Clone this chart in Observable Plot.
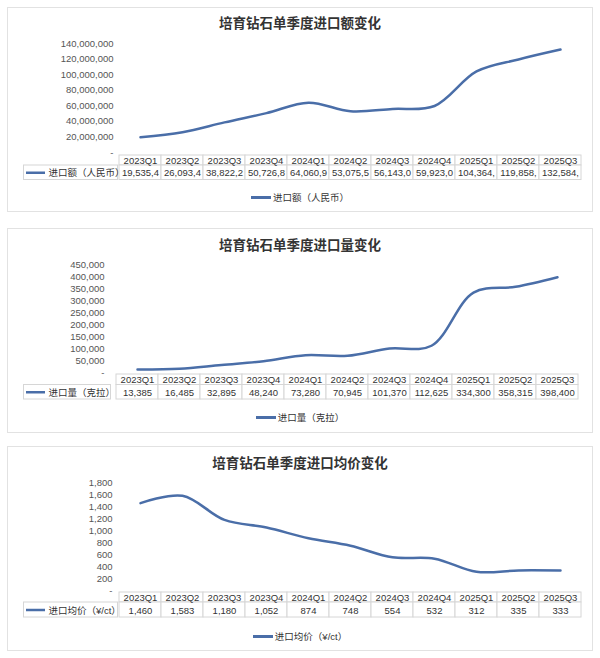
<!DOCTYPE html>
<html><head><meta charset="utf-8">
<script src="https://cdn.jsdelivr.net/npm/d3@7"></script>
<script src="https://cdn.jsdelivr.net/npm/@observablehq/plot@0.6"></script>
<style>
body{margin:0;background:#fff;font-family:"Liberation Sans","Noto Sans CJK SC",sans-serif;}
#root{position:relative;width:600px;height:658px;overflow:hidden;background:#fff;}
.box{position:absolute;left:7px;width:586px;border:1px solid #e2e2e2;box-sizing:border-box;}
.title{position:absolute;left:0;width:600px;text-align:center;font-weight:bold;font-size:13.5px;color:#333;line-height:16px;font-family:"Noto Sans CJK SC",sans-serif;}
.layer{position:absolute;left:0;}
.layer svg{overflow:visible;}
.legend{position:absolute;left:0;width:600px;text-align:center;font-size:9.5px;color:#333;line-height:12px;font-family:"Liberation Sans","Noto Sans CJK SC",sans-serif;}
.legend .sw{display:inline-block;width:20px;height:2.5px;background:#4a6ea8;vertical-align:middle;margin-right:2px;position:relative;top:-1px;}
</style>
</head><body><div id="root"></div>
<script>
// ---------- data ----------
const quarters = ["2023Q1","2023Q2","2023Q3","2023Q4","2024Q1","2024Q2","2024Q3","2024Q4","2025Q1","2025Q2","2025Q3"];
const importValue = [19535400, 26093400, 38822200, 50726800, 64060900, 53075500, 56143000, 59923000, 104364000, 119858000, 132584000];
const importValueLabels = ["19,535,4","26,093,4","38,822,2","50,726,8","64,060,9","53,075,5","56,143,0","59,923,0","104,364,","119,858,","132,584,"];
const importVolume = [13385, 16485, 32895, 48240, 73280, 70945, 101370, 112625, 334300, 358315, 398400];
const importPrice = [1460, 1583, 1180, 1052, 874, 748, 554, 532, 312, 335, 333];
const valueTicks = [0, 20000000, 40000000, 60000000, 80000000, 100000000, 120000000, 140000000];
const volumeTicks = [0, 50000, 100000, 150000, 200000, 250000, 300000, 350000, 400000, 450000];
const priceTicks = [0, 200, 400, 600, 800, 1000, 1200, 1400, 1600, 1800];
const titles = ["培育钻石单季度进口额变化", "培育钻石单季度进口量变化", "培育钻石单季度进口均价变化"];
const seriesNames = ["进口额（人民币）", "进口量（克拉）", "进口均价（¥/ct）"];

// ---------- layout ----------
const COLOR = "#4a6ea8";
const FONT = '"Liberation Sans","Noto Sans CJK SC",sans-serif';
const fmt = d3.format(",");
const panels = [
  {values: importValue, labels: importValueLabels, ticks: valueTicks,
   boxTop: 7, boxBottom: 212, titleY: 22, maxY: 43.3, zeroY: 152, labelRight: 113,
   xLeft: 117.5, xRight: 582.5, tTop: 154.5, tMid: 164.5, tBottom: 179, legendY: 198},
  {values: importVolume, labels: importVolume.map(fmt), ticks: volumeTicks,
   boxTop: 228, boxBottom: 433, titleY: 244, maxY: 264.3, zeroY: 372.3, labelRight: 104,
   xLeft: 110.5, xRight: 582.5, tTop: 373.5, tMid: 384, tBottom: 398.5, legendY: 418},
  {values: importPrice, labels: importPrice.map(fmt), ticks: priceTicks,
   boxTop: 446, boxBottom: 651, titleY: 462, maxY: 482.3, zeroY: 590, labelRight: 112,
   xLeft: 117.5, xRight: 582.5, tTop: 591.5, tMid: 601.5, tBottom: 616.5, legendY: 637}
];

const root = document.getElementById("root");
function el(cls, styles, html) {
  const d = document.createElement("div");
  d.className = cls;
  Object.assign(d.style, styles);
  if (html != null) d.innerHTML = html;
  root.appendChild(d);
  return d;
}

panels.forEach((p, i) => {
  el("box", {top: p.boxTop + "px", height: (p.boxBottom - p.boxTop) + "px"});
  el("title", {top: (p.titleY - 8) + "px"}, titles[i]);

  const rows = quarters.map((q, j) => ({q, v: p.values[j]}));
  const yMax = p.ticks[p.ticks.length - 1];

  // chart
  const chartH = p.zeroY - p.boxTop + 10;
  const chart = Plot.plot({
    width: 600, height: chartH,
    marginTop: p.maxY - p.boxTop, marginBottom: 10,
    marginLeft: p.labelRight + 3, marginRight: 600 - p.xRight,
    style: {fontFamily: FONT, fontSize: "9.5px", color: "#555", background: "transparent"},
    x: {type: "point", domain: quarters, range: [p.xLeft, p.xRight], padding: 0.5, axis: null},
    y: {domain: [0, yMax]},
    marks: [
      Plot.axisY(p.ticks, {tickSize: 0, tickPadding: 3, fontSize: 9.5, fill: "#555",
        tickFormat: d => d === 0 ? "-" : fmt(d), label: null}),
      Plot.line(rows, {x: "q", y: "v", curve: "catmull-rom", stroke: COLOR, strokeWidth: 2.5})
    ]
  });
  const cl = el("layer", {top: p.boxTop + "px"});
  cl.appendChild(chart);

  // table
  const tH = p.tBottom - p.tTop + 2;
  const hy1 = 1, hy2 = p.tMid - p.tTop + 1, dy2 = p.tBottom - p.tTop + 1;
  const cells = [];
  quarters.forEach((q, j) => {
    cells.push({q, y1: hy1, y2: hy2, text: q});
    cells.push({q, y1: hy2, y2: dy2, text: p.labels[j]});
  });
  const tLeft = 23.5;
  const table = Plot.plot({
    width: 600, height: tH,
    marginTop: 0, marginBottom: 0, marginLeft: tLeft, marginRight: 600 - p.xRight,
    style: {fontFamily: FONT, fontSize: "9.5px", color: "#333", background: "transparent"},
    x: {type: "band", domain: quarters, range: [p.xLeft, p.xRight], padding: 0, axis: null},
    y: {domain: [0, tH], range: [0, tH], axis: null},
    marks: [
      Plot.barY(cells, {x: "q", y1: "y1", y2: "y2", fill: "white", stroke: "#d6d6d6", strokeWidth: 1}),
      Plot.barY([{y1: hy2, y2: dy2}], {y1: "y1", y2: "y2", fill: "white", stroke: "#d6d6d6", strokeWidth: 1,
        insetRight: p.xRight - p.xLeft}),
      Plot.text(cells, {x: "q", y: d => (d.y1 + d.y2) / 2 + 0.5, text: "text", fill: "#333", fontSize: 9.5}),
      Plot.ruleY([(hy2 + dy2) / 2], {stroke: COLOR, strokeWidth: 2.5, insetLeft: 2.5,
        insetRight: p.xRight - (tLeft + 21.5)}),
      Plot.text([seriesNames[i]], {y: () => (hy2 + dy2) / 2 + 0.5, frameAnchor: "left", dx: 24.5,
        textAnchor: "start", text: d => d, fill: "#333", fontSize: 9.5})
    ]
  });
  const tl = el("layer", {top: (p.tTop - 1) + "px"});
  tl.appendChild(table);

  // legend
  el("legend", {top: (p.legendY - 6) + "px"}, '<span class="sw"></span>' + seriesNames[i]);
});
</script>
</body></html>
